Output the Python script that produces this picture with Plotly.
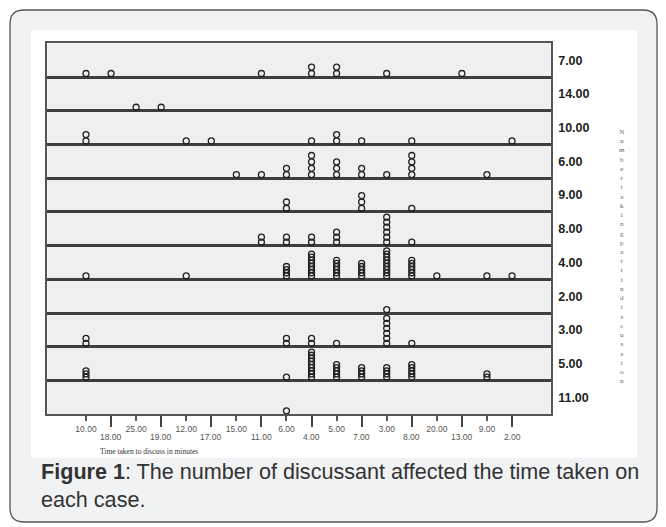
import plotly.graph_objects as go

# ---------------- data ----------------
time_categories = ["10.00", "18.00", "25.00", "19.00", "12.00", "17.00", "15.00", "11.00", "6.00",
                   "4.00", "5.00", "7.00", "3.00", "8.00", "20.00", "13.00", "9.00", "2.00"]
panel_labels = ["7.00", "14.00", "10.00", "6.00", "9.00", "8.00", "4.00", "2.00", "3.00", "5.00", "11.00"]

# number of cases per (panel, time category)
counts_7 = [1, 1, 0, 0, 0, 0, 0, 1, 0, 2, 2, 0, 1, 0, 0, 1, 0, 0]
counts_14 = [0, 0, 1, 1, 0, 0, 0, 0, 0, 0, 0, 0, 0, 0, 0, 0, 0, 0]
counts_10 = [2, 0, 0, 0, 1, 1, 0, 0, 0, 1, 2, 1, 0, 1, 0, 0, 0, 1]
counts_6 = [0, 0, 0, 0, 0, 0, 1, 1, 2, 4, 3, 2, 1, 4, 0, 0, 1, 0]
counts_9 = [0, 0, 0, 0, 0, 0, 0, 0, 2, 0, 0, 3, 0, 1, 0, 0, 0, 0]
counts_8 = [0, 0, 0, 0, 0, 0, 0, 2, 2, 2, 3, 0, 6, 1, 0, 0, 0, 0]
counts_4 = [1, 0, 0, 0, 1, 0, 0, 0, 4, 8, 6, 5, 9, 6, 1, 0, 1, 1]
counts_2 = [0, 0, 0, 0, 0, 0, 0, 0, 0, 0, 0, 0, 1, 0, 0, 0, 0, 0]
counts_3 = [2, 0, 0, 0, 0, 0, 0, 0, 2, 2, 1, 0, 6, 1, 0, 0, 0, 0]
counts_5 = [3, 0, 0, 0, 0, 0, 0, 0, 1, 9, 5, 4, 4, 5, 0, 0, 2, 0]
counts_11 = [0, 0, 0, 0, 0, 0, 0, 0, 1, 0, 0, 0, 0, 0, 0, 0, 0, 0]
panel_counts = [counts_7, counts_14, counts_10, counts_6, counts_9, counts_8,
                counts_4, counts_2, counts_3, counts_5, counts_11]

x_title = "Time taken to discuss in minutes"
y_title = "Number taking part in discussion"
caption_bold = "Figure 1"
caption_rest = ": The number of discussant affected the time taken on"
caption_line2 = "each case."

# ---------------- geometry ----------------
# the page body has an 8px margin, so page coordinates are shifted by OFF
OFF = 8
W, H = 666 - OFF, 527 - OFF
px = lambda v: (v - OFF) / W
py = lambda v: 1 - (v - OFF) / H
n_panels = len(panel_labels)
n_cats = len(time_categories)

# dot stacks (stacked within each panel)
xs, ys = [], []
base, normal_step, avail = 0.104, 0.19, 0.74
for r, row in enumerate(panel_counts):
    mx = max(row)
    step = normal_step if mx <= 1 else min(normal_step, avail / (mx - 1))
    bottom = n_panels - 1 - r
    for ci, c in enumerate(row):
        for k in range(c):
            xs.append(ci)
            ys.append(bottom + base + k * step)

fig = go.Figure()
fig.add_trace(go.Scatter(
    x=xs, y=ys, mode="markers",
    marker=dict(symbol="circle-open", size=6, color="#222222", line=dict(width=1.3, color="#222222")),
    hoverinfo="skip", showlegend=False, cliponaxis=False,
))

pad = 1.544
fig.update_xaxes(
    range=[-pad, n_cats - 1 + pad], domain=[px(47.3), px(550.7)],
    tickmode="array", tickvals=list(range(0, n_cats, 2)),
    ticktext=[time_categories[i] for i in range(0, n_cats, 2)],
    ticks="outside", ticklen=5, tickwidth=1.5, tickcolor="#555555",
    tickfont=dict(family="Liberation Sans, Arial", size=8.5, color="#555555"),
    minor=dict(tickmode="array", tickvals=list(range(1, n_cats, 2)), ticks="outside",
               ticklen=11, tickwidth=2, tickcolor="#444444", showgrid=False),
    showgrid=False, zeroline=False,
    showline=True, mirror=True, linecolor="#555555", linewidth=2,
)
fig.update_yaxes(
    range=[0, n_panels], domain=[py(414.3), py(43.3)], side="right",
    tickmode="array", tickvals=[n_panels - 1 - r + 0.5 for r in range(n_panels)],
    ticktext=panel_labels, ticks="", ticklabelstandoff=3,
    tickfont=dict(family="Liberation Sans, Arial", size=12.5, color="#222222", weight="bold"),
    minor=dict(tickmode="linear", tick0=0, dtick=1, showgrid=True, gridcolor="#3e3e3e", gridwidth=2.5, ticks=""),
    showgrid=False, zeroline=False,
    showline=True, mirror=True, linecolor="#555555", linewidth=2,
)

annotations = []
# bottom row of x tick labels
for i in range(1, n_cats, 2):
    annotations.append(dict(x=i, y=py(436.5), xref="x", yref="paper", text=time_categories[i],
                            showarrow=False, xanchor="center", yanchor="middle",
                            font=dict(family="Liberation Sans, Arial", size=8.5, color="#555555")))
annotations.append(dict(x=px(98), y=py(451), xref="paper", yref="paper", text=x_title,
                        showarrow=False, xanchor="left", yanchor="middle",
                        font=dict(family="Liberation Serif, Times New Roman", size=7.5, color="#333333")))
annotations.append(dict(x=px(622), y=py(256), xref="paper", yref="paper",
                        text="<br>".join(list(y_title.replace(" ", ""))),
                        showarrow=False, xanchor="center", yanchor="middle",
                        font=dict(family="Liberation Serif, Times New Roman", size=7.1, color="#666666")))
annotations.append(dict(x=px(39), y=py(471), xref="paper", yref="paper",
                        text="<b>" + caption_bold + "</b>" + caption_rest,
                        showarrow=False, xanchor="left", yanchor="middle",
                        font=dict(family="Liberation Sans, Arial", size=21.6, color="#333333")))
annotations.append(dict(x=px(39), y=py(499), xref="paper", yref="paper", text=caption_line2,
                        showarrow=False, xanchor="left", yanchor="middle",
                        font=dict(family="Liberation Sans, Arial", size=21.6, color="#333333")))

# card (rounded) + white figure area
def rounded(x0, y0, x1, y1, rr):
    pts = [
        f"M {px(x0 + rr)} {py(y0)}", f"L {px(x1 - rr)} {py(y0)}", f"Q {px(x1)} {py(y0)} {px(x1)} {py(y0 + rr)}",
        f"L {px(x1)} {py(y1 - rr)}", f"Q {px(x1)} {py(y1)} {px(x1 - rr)} {py(y1)}",
        f"L {px(x0 + rr)} {py(y1)}", f"Q {px(x0)} {py(y1)} {px(x0)} {py(y1 - rr)}",
        f"L {px(x0)} {py(y0 + rr)}", f"Q {px(x0)} {py(y0)} {px(x0 + rr)} {py(y0)}", "Z",
    ]
    return " ".join(pts)

shapes = [
    dict(type="path", xref="paper", yref="paper", path=rounded(10, 10, 657, 522, 14),
         fillcolor="#f1f2f4", line=dict(color="#555555", width=1.3), layer="below"),
    dict(type="rect", xref="paper", yref="paper", x0=px(31), x1=px(637), y0=py(458), y1=py(30),
         fillcolor="#ffffff", line=dict(width=0), layer="below"),
    dict(type="rect", xref="x domain", yref="y domain", x0=0, x1=1, y0=0, y1=1,
         fillcolor="#efefef", line=dict(width=0), layer="below"),
]

fig.update_layout(
    width=W, height=H, margin=dict(l=0, r=0, t=0, b=0),
    paper_bgcolor="#ffffff", plot_bgcolor="#efefef",
    shapes=shapes, annotations=annotations, showlegend=False,
)
fig.write_html("out.html")
